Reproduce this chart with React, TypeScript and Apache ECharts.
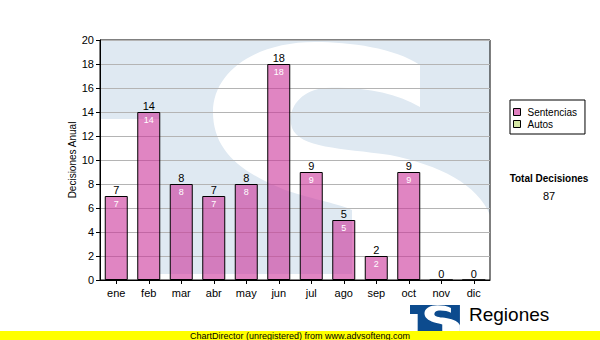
import React, { useEffect, useRef } from "react";
import * as echarts from "echarts";

const months = ["ene", "feb", "mar", "abr", "may", "jun", "jul", "ago", "sep", "oct", "nov", "dic"];
const sentencias = [7, 14, 8, 7, 8, 18, 9, 5, 2, 9, 0, 0];
const autos = [0, 0, 0, 0, 0, 0, 0, 0, 0, 0, 0, 0];
const seriesNames = ["Sentencias", "Autos"];
const yMin = 0;
const yMax = 20;
const yStep = 2;
const axisTitle = "Decisiones Anual";
const totalTitle = "Total Decisiones";
const footerText = "ChartDirector (unregistered) from www.advsofteng.com";
const logoTitle = "Regiones";
const logoSubtitle = "Tribunal Supremo de Justicia";

const FONT = "'Liberation Sans', Arial, sans-serif";

// Decorative "S" mark of the TSJ logo (watermark), in a 390x234 local box (origin at plot top-left)
const S_PATH =
  "M 320 25 C 295 8 250 2 215 2 C 155 2 113 32 113 72 C 113 110 140 132 185 150 " +
  "C 215 160 240 164 252 170 L 252 260 L 390 260 L 390 175 C 378 145 340 125 290 115 " +
  "C 240 108 200 108 192 88 C 186 70 200 50 225 48 C 260 46 295 52 320 67 Z";
echarts.graphic.registerShape("tsjS", echarts.graphic.extendPath(S_PATH, {}) as any);

function tsjMark(x: number, y: number, sx: number, sy: number, blue: string, z: number) {
  return {
    type: "group",
    x,
    y,
    scaleX: sx,
    scaleY: sy,
    silent: true,
    z,
    children: [
      { type: "rect", z, z2: 0, shape: { x: 0, y: 0, width: 390, height: 79 }, style: { fill: blue } },
      { type: "rect", z, z2: 0, shape: { x: 60, y: 78, width: 330, height: 156 }, style: { fill: blue } },
      { type: "tsjS", z, z2: 1, x: 0, y: 0, style: { fill: "#ffffff" } },
    ],
  };
}

export default function App() {
  const ref = useRef<HTMLDivElement>(null);

  useEffect(() => {
    if (!ref.current) return;
    document.body.style.margin = "0";
    const chart = echarts.init(ref.current, null, { renderer: "svg" });
    const totals = sentencias.map((v, i) => v + autos[i]);
    const grandTotal = totals.reduce((a, b) => a + b, 0);

    chart.setOption({
      animation: false,
      backgroundColor: "#ffffff",
      textStyle: { fontFamily: FONT },
      grid: {
        left: 100,
        top: 40,
        width: 390,
        height: 240,
        show: true,
        borderColor: "#000",
        borderWidth: 1,
        backgroundColor: "transparent",
        containLabel: false,
      },
      legend: {
        orient: "vertical",
        left: 510,
        top: 100,
        padding: [7, 8, 5, 3],
        borderColor: "#000",
        borderWidth: 1,
        itemWidth: 7,
        itemHeight: 7,
        itemGap: 2,
        icon: "rect",
        textStyle: { fontSize: 10, color: "#000", fontFamily: FONT, padding: [0, 0, 0, 2] },
        itemStyle: { borderColor: "#000", borderWidth: 1 },
        data: [
          { name: seriesNames[0], itemStyle: { color: "#e080c0", borderColor: "#000", borderWidth: 1 } },
          { name: seriesNames[1], itemStyle: { color: "#d5e8a5", borderColor: "#000", borderWidth: 1 } },
        ],
      },
      xAxis: {
        type: "category",
        data: months,
        axisLine: { show: true, lineStyle: { color: "#000", width: 1 } },
        axisTick: { show: true, alignWithLabel: true, length: 4, lineStyle: { color: "#000" } },
        axisLabel: { color: "#000", fontSize: 11, margin: 7, fontFamily: FONT },
        splitLine: { show: false },
      },
      yAxis: {
        type: "value",
        min: yMin,
        max: yMax,
        interval: yStep,
        name: axisTitle,
        nameLocation: "middle",
        nameGap: 23,
        nameMoveOverlap: false,
        nameTextStyle: { color: "#000", fontSize: 10, fontFamily: FONT },
        axisLine: { show: true, lineStyle: { color: "#000", width: 1 } },
        axisTick: { show: true, length: 4, lineStyle: { color: "#000" } },
        axisLabel: { color: "#000", fontSize: 11, margin: 6, fontFamily: FONT },
        splitLine: { show: true, lineStyle: { color: "#b4b4b4", width: 1 } },
      },
      series: [
        {
          name: seriesNames[0],
          type: "bar",
          stack: "total",
          data: sentencias,
          barWidth: 23,
          itemStyle: { color: "rgba(204,51,153,0.6)", borderColor: "#000", borderWidth: 1 },
          label: {
            show: true,
            position: "insideTop",
            distance: 3,
            color: "#ffffff",
            fontSize: 9,
            fontFamily: FONT,
            formatter: (p: any) => (p.value > 0 ? String(p.value) : ""),
          },
        },
        {
          name: seriesNames[1],
          type: "bar",
          stack: "total",
          data: autos,
          barWidth: 23,
          itemStyle: { color: "#d5e8a5", borderWidth: 0 },
          label: {
            show: true,
            position: "top",
            distance: 1,
            color: "#000",
            fontSize: 11,
            fontFamily: FONT,
            formatter: (p: any) => String(totals[p.dataIndex]),
          },
        },
      ],
      graphic: [
        // watermark inside the plot area
        tsjMark(100, 40, 1, 1, "#dfe9f2", -1),
        { type: "rect", z: -1, z2: 5, silent: true, shape: { x: 90, y: 274, width: 410, height: 60 }, style: { fill: "#ffffff" } },
        { type: "rect", z: -1, z2: 5, silent: true, shape: { x: 491, y: 20, width: 109, height: 300 }, style: { fill: "#ffffff" } },
        {
          type: "text", z: 5, x: 549, y: 178,
          style: { text: totalTitle, font: `bold 10px ${FONT}`, fill: "#000", textAlign: "center", textVerticalAlign: "middle" },
        },
        {
          type: "text", z: 5, x: 549, y: 196,
          style: { text: String(grandTotal), font: `11px ${FONT}`, fill: "#000", textAlign: "center", textVerticalAlign: "middle" },
        },
        // logo
        tsjMark(410, 305, 50 / 390, 27 / 234, "#0c4b8e", 5),
        {
          type: "text", z: 5, x: 469, y: 314,
          style: { text: logoTitle, font: `19px ${FONT}`, fill: "#000", textAlign: "left", textVerticalAlign: "middle" },
        },
        {
          type: "text", z: 5, x: 468, y: 333,
          style: { text: logoSubtitle, font: `8px ${FONT}`, fill: "#000", textAlign: "left", textVerticalAlign: "middle" },
        },
        { type: "rect", z: 6, shape: { x: 0, y: 331, width: 600, height: 9 }, style: { fill: "#ffff00" } },
        {
          type: "text", z: 7, x: 300, y: 335.5,
          style: { text: footerText, font: `9px ${FONT}`, fill: "#000", textAlign: "center", textVerticalAlign: "middle" },
        },
      ],
    });

    return () => chart.dispose();
  }, []);

  return <div ref={ref} style={{ width: 600, height: 340, position: "fixed", left: 0, top: 0 }} />;
}
